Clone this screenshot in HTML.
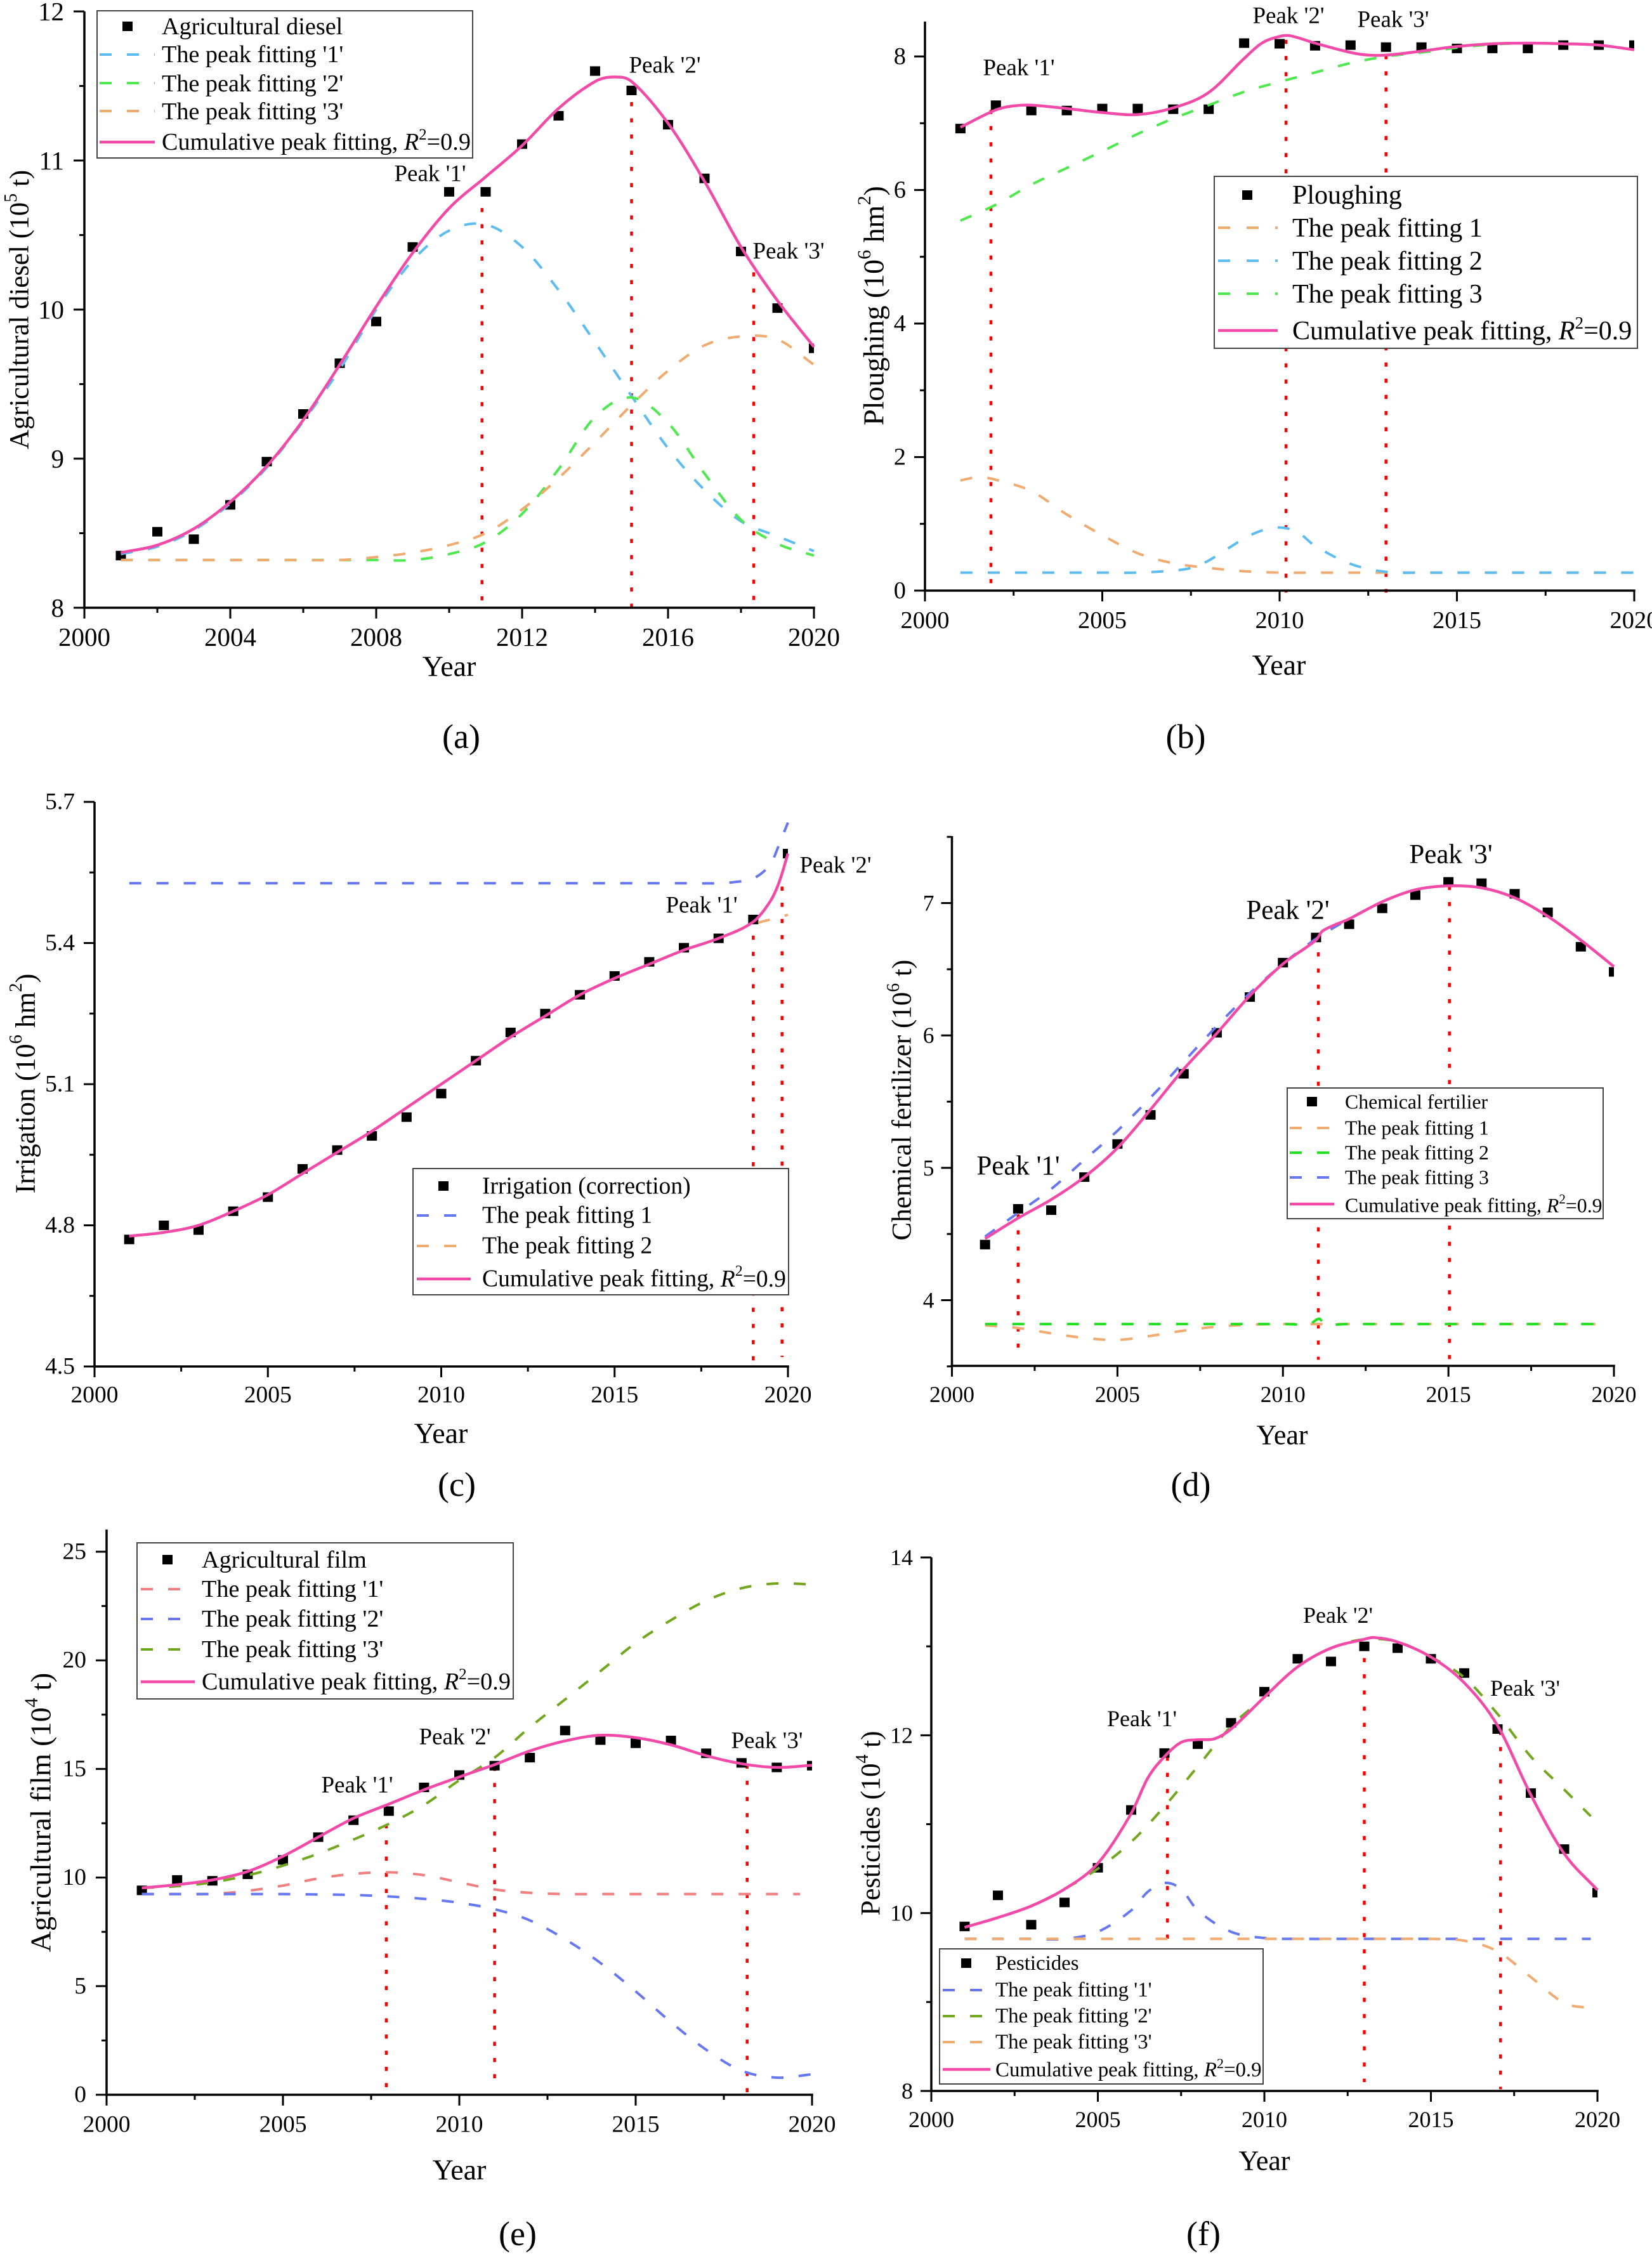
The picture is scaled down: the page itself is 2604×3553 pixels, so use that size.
<!DOCTYPE html>
<html lang="en">
<head>
<meta charset="utf-8">
<title>Peak fitting charts</title>
<style>
html,body{margin:0;padding:0;background:#fff;}
svg{display:block;}
text{font-family:"Liberation Serif",serif;fill:#000;dominant-baseline:central;}
.box{fill:#fff;stroke:#444;stroke-width:2;}
.ln{fill:none;stroke-width:4;stroke-dasharray:19 24;}
.cum{fill:none;stroke:#f24aa8;stroke-width:4.5;}
</style>
</head>
<body>
<svg id="figure" xmlns="http://www.w3.org/2000/svg" width="2604" height="3553" viewBox="0 0 2604 3553">
<rect x="0" y="0" width="2604" height="3553" fill="#fff"/>

<!-- PANEL A -->
<g>
<g id="marks-a"></g>
<text x="678" y="274" font-size="37" text-anchor="middle">Peak '1'</text>
<text x="1048" y="103" font-size="37" text-anchor="middle">Peak '2'</text>
<text x="1243" y="396" font-size="37" text-anchor="middle">Peak '3'</text>
<text x="708" y="1050" font-size="46" text-anchor="middle">Year</text>
<text x="31" y="488" font-size="43" text-anchor="middle" transform="rotate(-90 31 488)">Agricultural diesel (10<tspan font-size="28" dy="-14">5</tspan><tspan dy="14"> t)</tspan></text>
<text x="727" y="1161" font-size="54" text-anchor="middle">(a)</text>
<g>
<rect class="box" x="153" y="17" width="592" height="232"/>
<rect x="193" y="34" width="16" height="15" fill="#000"/>
<text x="255" y="42" font-size="38.2">Agricultural diesel</text>
<line class="ln" x1="157" x2="244" y1="86" y2="86" stroke="#5dbdf0"/>
<text x="255" y="86" font-size="38.2">The peak fitting '1'</text>
<line class="ln" x1="157" x2="244" y1="131" y2="131" stroke="#4fe84f"/>
<text x="255" y="132" font-size="38.2">The peak fitting '2'</text>
<line class="ln" x1="157" x2="244" y1="175" y2="175" stroke="#f0ab70"/>
<text x="255" y="176" font-size="38.2">The peak fitting '3'</text>
<line class="cum" x1="157" x2="244" y1="224" y2="224"/>
<text x="255" y="224" font-size="38.2">Cumulative peak fitting, <tspan font-style="italic">R</tspan><tspan font-size="25" dy="-12">2</tspan><tspan dy="12">=0.9</tspan></text>
</g>
</g>

<!-- PANEL B -->
<g>
<g id="marks-b"></g>
<text x="1606" y="107" font-size="37" text-anchor="middle">Peak '1'</text>
<text x="2031" y="25" font-size="37" text-anchor="middle">Peak '2'</text>
<text x="2196" y="31" font-size="37" text-anchor="middle">Peak '3'</text>
<text x="2016" y="1048" font-size="46" text-anchor="middle">Year</text>
<text x="1377" y="482" font-size="46" text-anchor="middle" transform="rotate(-90 1377 482)">Ploughing (10<tspan font-size="30" dy="-15">6</tspan><tspan dy="15"> hm</tspan><tspan font-size="30" dy="-15">2</tspan><tspan dy="15">)</tspan></text>
<text x="1869" y="1161" font-size="54" text-anchor="middle">(b)</text>
<g>
<rect class="box" x="1914" y="278" width="667" height="271"/>
<rect x="1958" y="300" width="16" height="15" fill="#000"/>
<text x="2037" y="308" font-size="42">Ploughing</text>
<line class="ln" x1="1920" x2="2014" y1="359" y2="359" stroke="#f0ab70" style="stroke-dasharray:19 26"/>
<text x="2037" y="360" font-size="42">The peak fitting 1</text>
<line class="ln" x1="1920" x2="2014" y1="411" y2="411" stroke="#5dbdf0" style="stroke-dasharray:19 26"/>
<text x="2037" y="412" font-size="42">The peak fitting 2</text>
<line class="ln" x1="1920" x2="2014" y1="463" y2="463" stroke="#4fe84f" style="stroke-dasharray:19 26"/>
<text x="2037" y="464" font-size="42">The peak fitting 3</text>
<line class="cum" x1="1920" x2="2014" y1="521" y2="521"/>
<text x="2037" y="522" font-size="42">Cumulative peak fitting, <tspan font-style="italic">R</tspan><tspan font-size="27" dy="-13">2</tspan><tspan dy="13">=0.9</tspan></text>
</g>
</g>

<!-- PANEL C -->
<g>
<g id="marks-c"></g>
<text x="1106" y="1427" font-size="37" text-anchor="middle">Peak '1'</text>
<text x="1317" y="1364" font-size="37" text-anchor="middle">Peak '2'</text>
<text x="695" y="2259" font-size="46" text-anchor="middle">Year</text>
<text x="40" y="1708" font-size="44" text-anchor="middle" transform="rotate(-90 40 1708)">Irrigation (10<tspan font-size="29" dy="-15">6</tspan><tspan dy="15"> hm</tspan><tspan font-size="29" dy="-15">2</tspan><tspan dy="15">)</tspan></text>
<text x="720" y="2340" font-size="54" text-anchor="middle">(c)</text>
<g>
<rect class="box" x="651" y="1842" width="592" height="199"/>
<rect x="691" y="1862" width="16" height="15" fill="#000"/>
<text x="760" y="1870" font-size="37.6">Irrigation (correction)</text>
<line class="ln" x1="657" x2="742" y1="1916" y2="1916" stroke="#6678f0"/>
<text x="760" y="1916" font-size="37.6">The peak fitting 1</text>
<line class="ln" x1="657" x2="742" y1="1964" y2="1964" stroke="#f0ab70"/>
<text x="760" y="1964" font-size="37.6">The peak fitting 2</text>
<line class="cum" x1="657" x2="742" y1="2016" y2="2016"/>
<text x="760" y="2016" font-size="37.6">Cumulative peak fitting, <tspan font-style="italic">R</tspan><tspan font-size="24" dy="-12">2</tspan><tspan dy="12">=0.9</tspan></text>
</g>
</g>

<!-- PANEL D -->
<g>
<g id="marks-d"></g>
<text x="1605" y="1838" font-size="43" text-anchor="middle">Peak '1'</text>
<text x="2030" y="1435" font-size="43" text-anchor="middle">Peak '2'</text>
<text x="2287" y="1347" font-size="43" text-anchor="middle">Peak '3'</text>
<text x="2021" y="2262" font-size="44" text-anchor="middle">Year</text>
<text x="1422" y="1734" font-size="43" text-anchor="middle" transform="rotate(-90 1422 1734)">Chemical fertilizer (10<tspan font-size="28" dy="-14">6</tspan><tspan dy="14"> t)</tspan></text>
<text x="1877" y="2340" font-size="54" text-anchor="middle">(d)</text>
<g>
<rect class="box" x="2029" y="1715" width="498" height="206"/>
<rect x="2060" y="1729" width="16" height="15" fill="#000"/>
<text x="2120" y="1737" font-size="31.8">Chemical fertilier</text>
<line class="ln" x1="2033" x2="2103" y1="1778" y2="1778" stroke="#f0ab70"/>
<text x="2120" y="1778" font-size="31.8">The peak fitting 1</text>
<line class="ln" x1="2033" x2="2103" y1="1817" y2="1817" stroke="#22e022"/>
<text x="2120" y="1817" font-size="31.8">The peak fitting 2</text>
<line class="ln" x1="2033" x2="2103" y1="1856" y2="1856" stroke="#6678f0"/>
<text x="2120" y="1856" font-size="31.8">The peak fitting 3</text>
<line class="cum" x1="2033" x2="2103" y1="1898" y2="1898"/>
<text x="2120" y="1900" font-size="31.8">Cumulative peak fitting, <tspan font-style="italic">R</tspan><tspan font-size="21" dy="-10">2</tspan><tspan dy="10">=0.9</tspan></text>
</g>
</g>

<!-- PANEL E -->
<g>
<g id="marks-e"></g>
<text x="563" y="2814" font-size="37" text-anchor="middle">Peak '1'</text>
<text x="717" y="2738" font-size="37" text-anchor="middle">Peak '2'</text>
<text x="1209" y="2744" font-size="37" text-anchor="middle">Peak '3'</text>
<text x="724" y="3420" font-size="46" text-anchor="middle">Year</text>
<text x="64" y="2857" font-size="46" text-anchor="middle" transform="rotate(-90 64 2857)">Agricultural film (10<tspan font-size="30" dy="-15">4</tspan><tspan dy="15"> t)</tspan></text>
<text x="816" y="3521" font-size="54" text-anchor="middle">(e)</text>
<g>
<rect class="box" x="216" y="2432" width="593" height="246"/>
<rect x="256" y="2451" width="16" height="15" fill="#000"/>
<text x="318" y="2459" font-size="38.2">Agricultural film</text>
<line class="ln" x1="222" x2="307" y1="2505" y2="2505" stroke="#f08080"/>
<text x="318" y="2505" font-size="38.2">The peak fitting '1'</text>
<line class="ln" x1="222" x2="307" y1="2552" y2="2552" stroke="#6678f0"/>
<text x="318" y="2552" font-size="38.2">The peak fitting '2'</text>
<line class="ln" x1="222" x2="307" y1="2600" y2="2600" stroke="#72a820"/>
<text x="318" y="2600" font-size="38.2">The peak fitting '3'</text>
<line class="cum" x1="222" x2="307" y1="2651" y2="2651"/>
<text x="318" y="2651" font-size="38.2">Cumulative peak fitting, <tspan font-style="italic">R</tspan><tspan font-size="25" dy="-12">2</tspan><tspan dy="12">=0.9</tspan></text>
</g>
</g>

<!-- PANEL F -->
<g>
<g id="marks-f"></g>
<text x="1800" y="2709" font-size="36" text-anchor="middle">Peak '1'</text>
<text x="2109" y="2546" font-size="36" text-anchor="middle">Peak '2'</text>
<text x="2404" y="2661" font-size="36" text-anchor="middle">Peak '3'</text>
<text x="1993" y="3406" font-size="44" text-anchor="middle">Year</text>
<text x="1373" y="2874" font-size="43" text-anchor="middle" transform="rotate(-90 1373 2874)">Pesticides (10<tspan font-size="28" dy="-14">4</tspan><tspan dy="14"> t)</tspan></text>
<text x="1897" y="3521" font-size="54" text-anchor="middle">(f)</text>
<g>
<rect class="box" x="1481" y="3072" width="510" height="213"/>
<rect x="1515" y="3087" width="16" height="15" fill="#000"/>
<text x="1569" y="3095" font-size="32.9">Pesticides</text>
<line class="ln" x1="1486" x2="1561" y1="3137" y2="3137" stroke="#6678f0"/>
<text x="1569" y="3137" font-size="32.9">The peak fitting '1'</text>
<line class="ln" x1="1486" x2="1561" y1="3178" y2="3178" stroke="#72a820"/>
<text x="1569" y="3178" font-size="32.9">The peak fitting '2'</text>
<line class="ln" x1="1486" x2="1561" y1="3219" y2="3219" stroke="#f0ab70"/>
<text x="1569" y="3219" font-size="32.9">The peak fitting '3'</text>
<line class="cum" x1="1486" x2="1561" y1="3262" y2="3262"/>
<text x="1569" y="3263" font-size="32.9">Cumulative peak fitting, <tspan font-style="italic">R</tspan><tspan font-size="22" dy="-11">2</tspan><tspan dy="11">=0.9</tspan></text>
</g>
</g>
</svg>

<script>
// Shared category axis
const YEARS = [2001,2002,2003,2004,2005,2006,2007,2008,2009,2010,2011,2012,2013,2014,2015,2016,2017,2018,2019,2020];

// Panel (a) Agricultural diesel
const aObserved = [8.35,8.51,8.46,8.69,8.98,9.30,9.64,9.92,10.42,10.79,10.79,11.11,11.30,11.60,11.47,11.24,10.88,10.39,10.01,9.74];
const aCumYears = [2001,2002,2003,2004,2005,2006,2007,2008,2009,2010,2011,2012,2013,2014,2014.5,2015,2016,2017,2018,2019,2020];
const aCum = [8.37,8.42,8.53,8.71,8.95,9.26,9.63,10.02,10.38,10.68,10.89,11.10,11.35,11.53,11.56,11.53,11.25,10.86,10.42,10.06,9.75];
const aFit1 = [8.36,8.41,8.52,8.70,8.94,9.25,9.60,10.0,10.33,10.53,10.57,10.42,10.13,9.78,9.42,9.07,8.79,8.58,8.48,8.38];
const aFit2 = [8.32,8.32,8.32,8.32,8.32,8.32,8.32,8.32,8.32,8.36,8.44,8.63,8.93,9.28,9.41,9.24,8.9,8.59,8.43,8.35];
const aFit3 = [8.32,8.32,8.32,8.32,8.32,8.32,8.32,8.34,8.37,8.42,8.5,8.66,8.87,9.11,9.36,9.59,9.76,9.82,9.8,9.63];
const aPeakYears = [2010.9,2015,2018.35];
const aPeakTops = [10.79,11.5,10.25];
const aPeakBottoms = [8,8,8.03];
const aXMajor = [2000,2004,2008,2012,2016,2020];
const aXMinor = [2002,2006,2010,2014,2018];
const aYMajor = [8,9,10,11,12];
const aYMinor = [8.5,9.5,10.5,11.5];

// Panel (b) Ploughing
const bObserved = [6.92,7.27,7.19,7.19,7.22,7.22,7.21,7.21,8.2,8.19,8.16,8.17,8.14,8.14,8.12,8.12,8.12,8.17,8.17,8.17];
const bCumYears = [2001,2002,2002.5,2003,2004,2005,2006,2007,2008,2009,2009.5,2010,2010.3,2011,2012,2012.5,2013,2014,2015,2016,2017,2018,2019,2020];
const bCum = [6.94,7.2,7.26,7.27,7.22,7.16,7.13,7.23,7.46,7.97,8.2,8.3,8.31,8.2,8.06,8.02,8.02,8.08,8.15,8.19,8.2,8.19,8.17,8.1];
const bFit1Years = [2001,2001.5,2002,2003,2004,2005,2006,2007,2008,2009,2010,2011,2012,2013,2014,2015,2016,2017,2018,2019,2020];
const bFit1 = [1.65,1.7,1.66,1.49,1.14,0.83,0.56,0.41,0.34,0.29,0.27,0.27,0.27,0.27,0.27,0.27,0.27,0.27,0.27,0.27,0.27];
const bFit2Years = [2001,2002,2003,2004,2005,2006,2007,2007.5,2008,2009,2009.5,2010,2010.5,2011,2012,2013,2014,2015,2016,2017,2018,2019,2020];
const bFit2 = [0.27,0.27,0.27,0.27,0.27,0.27,0.3,0.34,0.45,0.78,0.9,0.945,0.88,0.67,0.4,0.28,0.27,0.27,0.27,0.27,0.27,0.27,0.27];
const bFit3 = [5.54,5.78,6.08,6.33,6.58,6.84,7.07,7.27,7.47,7.62,7.76,7.9,8.0,8.06,8.13,8.18,8.2,8.19,8.17,8.1];
const bPeakYears = [2001.86,2010.18,2013];
const bPeakTops = [7.2,8.25,8.02];
const bPeakBottoms = [-0.05,-0.03,-0.03];
const bXMajor = [2000,2005,2010,2015,2020];
const bXMinor = [2002.5,2007.5,2012.5,2017.5];
const bYMajor = [0,2,4,6,8];
const bYMinor = [1,3,5,7];

// Panel (c) Irrigation
const cObserved = [4.77,4.80,4.79,4.83,4.86,4.92,4.96,4.99,5.03,5.08,5.15,5.21,5.25,5.29,5.33,5.36,5.39,5.41,5.45,5.59];
const cCumYears = [2001,2002,2003,2004,2005,2006,2007,2008,2009,2010,2011,2012,2013,2014,2015,2016,2017,2018,2019,2019.5,2019.75,2020];
const cCum = [4.777,4.785,4.80,4.83,4.865,4.91,4.955,5.0,5.05,5.10,5.15,5.2,5.245,5.29,5.325,5.355,5.385,5.41,5.445,5.49,5.53,5.59];
const cFit1Years = [2001,2005,2010,2015,2016,2017,2018,2018.5,2019,2019.5,2019.75,2020];
const cFit1 = [5.527,5.527,5.527,5.527,5.527,5.527,5.527,5.53,5.537,5.568,5.61,5.656];
const cFit2Years = [2001,2002,2003,2004,2005,2006,2007,2008,2009,2010,2011,2012,2013,2014,2015,2016,2017,2018,2019,2019.5,2020];
const cFit2 = [4.777,4.785,4.80,4.83,4.865,4.91,4.955,5.0,5.05,5.10,5.15,5.2,5.245,5.29,5.325,5.355,5.385,5.41,5.44,5.45,5.46];
const cPeakYears = [2019,2019.83];
const cPeakTops = [5.45,5.52];
const cPeakBottoms = [4.51,4.52];
const cXMajor = [2000,2005,2010,2015,2020];
const cXMinor = [2002.5,2007.5,2012.5,2017.5];
const cYMajor = [4.5,4.8,5.1,5.4,5.7];
const cYMinor = [4.65,4.95,5.25,5.55];

// Panel (d) Chemical fertilizer
const dObserved = [4.42,4.69,4.68,4.93,5.18,5.40,5.71,6.02,6.29,6.55,6.74,6.84,6.96,7.06,7.16,7.15,7.07,6.93,6.67,6.48];
const dCumYears = [2001,2002,2003,2004,2005,2006,2007,2008,2009,2010,2011,2011.2,2012,2013,2014,2015,2016,2017,2018,2019,2020];
const dCum = [4.465,4.62,4.76,4.93,5.15,5.44,5.745,6.015,6.3,6.54,6.72,6.79,6.88,7.01,7.1,7.13,7.115,7.04,6.9,6.72,6.52];
const dFit1Years = [2001,2002,2003,2004,2005,2006,2007,2008,2009,2010,2011,2012,2013,2014,2015,2016,2017,2018,2019,2019.7];
const dFit1 = [3.81,3.79,3.75,3.715,3.70,3.73,3.77,3.8,3.815,3.82,3.82,3.82,3.82,3.82,3.82,3.82,3.82,3.82,3.82,3.82];
const dFit2Years = [2001,2002,2003,2004,2005,2006,2007,2008,2009,2010,2010.8,2011.1,2011.25,2012,2013,2014,2015,2016,2017,2018,2019,2019.7];
const dFit2 = [3.82,3.82,3.82,3.82,3.82,3.82,3.82,3.82,3.82,3.82,3.82,3.86,3.82,3.82,3.82,3.82,3.82,3.82,3.82,3.82,3.82,3.82];
const dFit3 = [4.48,4.66,4.84,5.06,5.28,5.53,5.8,6.07,6.32,6.54,6.73,6.88,7.01,7.1,7.13,7.115,7.04,6.9,6.72,6.52];
const dPeakYears = [2002,2011.07,2015.03];
const dPeakTops = [4.65,6.75,7.13];
const dPeakBottoms = [3.55,3.55,3.55];
const dXMajor = [2000,2005,2010,2015,2020];
const dXMinor = [2002.5,2007.5,2012.5,2017.5];
const dYMajor = [4,5,6,7];
const dYMinor = [3.5,4.5,5.5,6.5,7.5];

// Panel (e) Agricultural film
const eObserved = [9.41,9.89,9.85,10.15,10.81,11.86,12.64,13.06,14.15,14.72,15.15,15.52,16.77,16.33,16.18,16.31,15.72,15.28,15.07,15.15];
const eCum = [9.52,9.67,9.89,10.28,10.98,11.86,12.73,13.38,14.04,14.63,15.2,15.83,16.29,16.55,16.44,16.11,15.61,15.24,15.07,15.17];
const eFit1Years = [2001,2002,2003,2004,2005,2006,2007,2008,2009,2010,2011,2012,2013,2014,2015,2016,2017,2018,2019,2019.66];
const eFit1 = [9.24,9.24,9.25,9.39,9.63,9.96,10.17,10.24,10.11,9.78,9.45,9.3,9.24,9.24,9.24,9.24,9.24,9.24,9.24,9.24];
const eFit2 = [9.24,9.24,9.24,9.24,9.24,9.22,9.2,9.13,9.02,8.84,8.54,8.03,7.16,6.07,4.76,3.34,2.07,1.11,0.79,0.94];
const eFit3 = [9.52,9.6,9.78,10.1,10.55,11.1,11.75,12.47,13.34,14.48,15.52,16.92,18.2,19.5,20.8,21.85,22.75,23.32,23.54,23.49];
const ePeakYears = [2007.93,2011,2018.16];
const ePeakTops = [13.2,15.1,15.2];
const ePeakBottoms = [0.25,0.6,0.05];
const eXMajor = [2000,2005,2010,2015,2020];
const eXMinor = [2002.5,2007.5,2012.5,2017.5];
const eYMajor = [0,5,10,15,20,25];
const eYMinor = [2.5,7.5,12.5,17.5,22.5];

// Panel (f) Pesticides
const fObserved = [9.85,10.2,9.87,10.12,10.51,11.16,11.8,11.9,12.14,12.49,12.86,12.83,13.0,12.98,12.86,12.7,12.07,11.35,10.72,10.23];
const fCumYears = [2001,2002,2003,2004,2005,2006,2006.5,2007,2007.5,2008,2008.5,2009,2010,2011,2012,2013,2013.3,2014,2015,2016,2017,2018,2019,2020];
const fCum = [9.84,9.95,10.08,10.27,10.56,11.12,11.52,11.76,11.92,11.95,11.96,12.07,12.43,12.77,12.98,13.08,13.1,13.05,12.88,12.59,12.11,11.33,10.67,10.26];
const fFit1Years = [2001,2002,2003,2004,2005,2006,2006.5,2007,2007.5,2008,2009,2010,2011,2012,2013,2014,2015,2016,2017,2018,2019,2019.8];
const fFit1 = [9.71,9.71,9.71,9.71,9.79,10.03,10.24,10.34,10.27,10.03,9.79,9.72,9.71,9.71,9.71,9.71,9.71,9.71,9.71,9.71,9.71,9.71];
const fFit2Years = [2001,2002,2003,2004,2005,2006,2007,2008,2009,2010,2011,2012,2013,2014,2015,2016,2017,2018,2019,2019.8];
const fFit2 = [9.84,9.95,10.08,10.27,10.5,10.8,11.2,11.65,12.1,12.43,12.77,12.98,13.08,13.05,12.88,12.65,12.24,11.76,11.39,11.09];
const fFit3Years = [2001,2002,2003,2004,2005,2006,2007,2008,2009,2010,2011,2012,2013,2014,2015,2016,2017,2018,2019,2019.8];
const fFit3 = [9.71,9.71,9.71,9.71,9.71,9.71,9.71,9.71,9.71,9.71,9.71,9.71,9.71,9.71,9.71,9.69,9.57,9.28,8.99,8.93];
const fPeakYears = [2007.09,2013,2017.09];
const fPeakTops = [11.76,13.05,12.05];
const fPeakBottoms = [9.5,8.1,8.02];
const fXMajor = [2000,2005,2010,2015,2020];
const fXMinor = [2002.5,2007.5,2012.5,2017.5];
const fYMajor = [8,10,12,14];
const fYMinor = [9,11,13];

const NS = 'http://www.w3.org/2000/svg';

function mk(parent, tag, attrs) {
  const el = document.createElementNS(NS, tag);
  for (const k in attrs) el.setAttribute(k, attrs[k]);
  parent.appendChild(el);
  return el;
}

// Smooth path through knots (Catmull-Rom converted to cubic Bezier)
function smoothPath(pts) {
  let d = 'M' + pts[0][0].toFixed(1) + ' ' + pts[0][1].toFixed(1);
  for (let i = 0; i < pts.length - 1; i++) {
    const p0 = pts[Math.max(i - 1, 0)], p1 = pts[i], p2 = pts[i + 1], p3 = pts[Math.min(i + 2, pts.length - 1)];
    const h = p2[0] - p1[0];
    const m1 = (p2[1] - p0[1]) / Math.max(p2[0] - p0[0], 1e-6);
    const m2 = (p3[1] - p1[1]) / Math.max(p3[0] - p1[0], 1e-6);
    d += 'C' + (p1[0] + h / 3).toFixed(1) + ' ' + (p1[1] + m1 * h / 3).toFixed(1) + ' ' +
         (p2[0] - h / 3).toFixed(1) + ' ' + (p2[1] - m2 * h / 3).toFixed(1) + ' ' +
         p2[0].toFixed(1) + ' ' + p2[1].toFixed(1);
  }
  return d;
}

function drawPanel(id, L, ax, observed, fits, cumYears, cum, peakYears, peakTops, peakBottoms) {
  const root = document.getElementById('marks-' + id);
  const sx = function (yr) { return L.x0 + (yr - 2000) / 20 * (L.x1 - L.x0); };
  const sy = function (v) { return L.yA + (v - L.vA) / (L.vB - L.vA) * (L.yB - L.yA); };

  const clip = mk(root, 'clipPath', { id: 'clip-' + id });
  mk(clip, 'rect', { x: L.x0, y: 0, width: L.x1 - L.x0, height: 3553 });

  // Peak guide lines (dotted, drawn from the top down)
  peakYears.forEach(function (yr, i) {
    const el = mk(root, 'line', { x1: sx(yr), x2: sx(yr), y1: sy(peakTops[i]), y2: sy(peakBottoms[i]), stroke: '#f60000', 'stroke-width': 4.5, 'stroke-dasharray': '6.5 19' });
    
    
  });

  // Observed points
  const markers = mk(root, 'g', { 'clip-path': 'url(#clip-' + id + ')' });
  
  
  observed.forEach(function (v, i) {
    const el = mk(markers, 'rect', { x: sx(YEARS[i]) - 8, y: sy(v) - 7.5, width: 16, height: 15, fill: '#000' });
    
    
  });

  // Fitted peaks
  fits.forEach(function (f) {
    const pts = f.values.map(function (v, i) { return [sx(f.years[i]), sy(v)]; });
    const el = mk(root, 'path', { d: smoothPath(pts), fill: 'none', stroke: f.color, 'stroke-width': 4, 'stroke-dasharray': '19 24' });
    
    
  });

  // Cumulative fit
  const cumPts = cum.map(function (v, i) { return [sx(cumYears[i]), sy(v)]; });
  const cumEl = mk(root, 'path', { d: smoothPath(cumPts), fill: 'none', stroke: '#f24aa8', 'stroke-width': 4.5 });
  
  

  // Axes
  const xAxis = mk(root, 'line', { x1: L.x0 - 1.75, x2: L.x1 + 1.75, y1: L.yBase, y2: L.yBase, stroke: '#000', 'stroke-width': 3.5 });
  
  
  const yAxis = mk(root, 'line', { x1: L.x0, x2: L.x0, y1: L.yBase, y2: L.yTop, stroke: '#000', 'stroke-width': 3.5 });
  
  

  ax.xMajor.forEach(function (t) {
    const tick = mk(root, 'line', { x1: sx(t), x2: sx(t), y1: L.yBase, y2: L.yBase + 17, stroke: '#000', 'stroke-width': 3 });
    
    
    const lab = mk(root, 'text', { x: sx(t), y: L.yBase + L.xLabelGap, 'font-size': L.tickSize, 'text-anchor': 'middle' });
    lab.textContent = String(t);
    
    
  });
  ax.xMinor.forEach(function (t) {
    const tick = mk(root, 'line', { x1: sx(t), x2: sx(t), y1: L.yBase, y2: L.yBase + 8, stroke: '#000', 'stroke-width': 3 });
    
    
  });
  ax.yMajor.forEach(function (t) {
    const tick = mk(root, 'line', { x1: L.x0, x2: L.x0 - 17, y1: sy(t), y2: sy(t), stroke: '#000', 'stroke-width': 3 });
    
    
    const lab = mk(root, 'text', { x: L.x0 - L.yLabelGap, y: sy(t), 'font-size': L.tickSize, 'text-anchor': 'end' });
    lab.textContent = L.yFixed ? t.toFixed(L.yFixed) : String(t);
    
    
  });
  ax.yMinor.forEach(function (t) {
    const tick = mk(root, 'line', { x1: L.x0, x2: L.x0 - 8, y1: sy(t), y2: sy(t), stroke: '#000', 'stroke-width': 3 });
    
    
  });
}

const SKY = '#5dbdf0', LIME = '#4fe84f', GREEN = '#22e022', ORANGE = '#f0ab70', PERI = '#6678f0', OLIVE = '#72a820', SALMON = '#f08080';

drawPanel('a',
  { x0: 133, x1: 1283, yA: 958, vA: 8, yB: 18, vB: 12, yBase: 958, yTop: 18, tickSize: 41, xLabelGap: 46, yLabelGap: 32 },
  { xMajor: aXMajor, xMinor: aXMinor, yMajor: aYMajor, yMinor: aYMinor },
  aObserved,
  [{ years: YEARS, values: aFit1, color: SKY }, { years: YEARS, values: aFit2, color: LIME }, { years: YEARS, values: aFit3, color: ORANGE }],
  aCumYears, aCum, aPeakYears, aPeakTops, aPeakBottoms);

drawPanel('b',
  { x0: 1458, x1: 2576, yA: 931, vA: 0, yB: 89, vB: 8, yBase: 931, yTop: 34, tickSize: 38.5, xLabelGap: 47, yLabelGap: 30 },
  { xMajor: bXMajor, xMinor: bXMinor, yMajor: bYMajor, yMinor: bYMinor },
  bObserved,
  [{ years: bFit1Years, values: bFit1, color: ORANGE }, { years: bFit2Years, values: bFit2, color: SKY }, { years: YEARS, values: bFit3, color: LIME }],
  bCumYears, bCum, bPeakYears, bPeakTops, bPeakBottoms);

drawPanel('c',
  { x0: 149, x1: 1242, yA: 2154, vA: 4.5, yB: 1264, vB: 5.7, yBase: 2154, yTop: 1264, tickSize: 37.5, xLabelGap: 45, yLabelGap: 31, yFixed: 1 },
  { xMajor: cXMajor, xMinor: cXMinor, yMajor: cYMajor, yMinor: cYMinor },
  cObserved,
  [{ years: cFit1Years, values: cFit1, color: PERI }, { years: cFit2Years, values: cFit2, color: ORANGE }],
  cCumYears, cCum, cPeakYears, cPeakTops, cPeakBottoms);

drawPanel('d',
  { x0: 1500.5, x1: 2544, yA: 2049.5, vA: 4, yB: 1423.5, vB: 7, yBase: 2153, yTop: 1318, tickSize: 35.5, xLabelGap: 45, yLabelGap: 28 },
  { xMajor: dXMajor, xMinor: dXMinor, yMajor: dYMajor, yMinor: dYMinor },
  dObserved,
  [{ years: dFit1Years, values: dFit1, color: ORANGE }, { years: dFit2Years, values: dFit2, color: GREEN }, { years: YEARS, values: dFit3, color: PERI }],
  dCumYears, dCum, dPeakYears, dPeakTops, dPeakBottoms);

drawPanel('e',
  { x0: 168, x1: 1280, yA: 3302, vA: 0, yB: 2446, vB: 25, yBase: 3302, yTop: 2411, tickSize: 37.5, xLabelGap: 47, yLabelGap: 32 },
  { xMajor: eXMajor, xMinor: eXMinor, yMajor: eYMajor, yMinor: eYMinor },
  eObserved,
  [{ years: eFit1Years, values: eFit1, color: SALMON }, { years: YEARS, values: eFit2, color: PERI }, { years: YEARS, values: eFit3, color: OLIVE }],
  YEARS, eCum, ePeakYears, ePeakTops, ePeakBottoms);

drawPanel('f',
  { x0: 1468, x1: 2518, yA: 3296, vA: 8, yB: 2455, vB: 14, yBase: 3296, yTop: 2455, tickSize: 36, xLabelGap: 45, yLabelGap: 29 },
  { xMajor: fXMajor, xMinor: fXMinor, yMajor: fYMajor, yMinor: fYMinor },
  fObserved,
  [{ years: fFit1Years, values: fFit1, color: PERI }, { years: fFit2Years, values: fFit2, color: OLIVE }, { years: fFit3Years, values: fFit3, color: ORANGE }],
  fCumYears, fCum, fPeakYears, fPeakTops, fPeakBottoms);
</script>
</body>
</html>
